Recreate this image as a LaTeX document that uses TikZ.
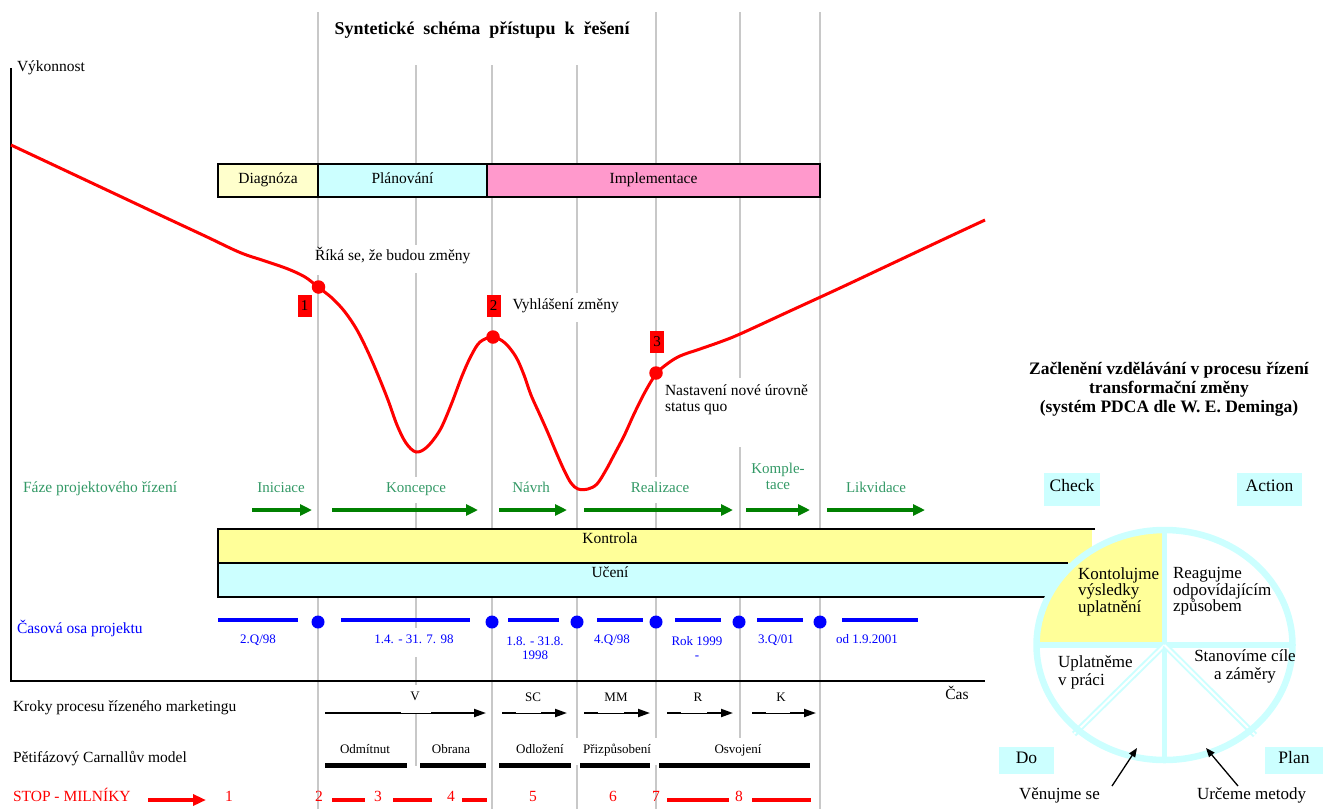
\documentclass[tikz,border=0pt]{standalone}
\usepackage{fontspec}
\setmainfont{Liberation Serif}
\usetikzlibrary{arrows.meta}

\definecolor{gridgray}{RGB}{200,200,200}
\definecolor{paleyellow}{RGB}{255,255,204}
\definecolor{lightyellow}{RGB}{255,255,153}
\definecolor{palecyan}{RGB}{204,255,255}
\definecolor{pinkfill}{RGB}{255,153,204}
\definecolor{phasegreen}{RGB}{51,153,102}
\definecolor{arrowgreen}{RGB}{0,128,0}
\definecolor{timeblue}{RGB}{0,0,255}
\definecolor{stopred}{RGB}{255,0,0}

\begin{document}
\begin{tikzpicture}[x=1pt,y=-1pt,
  every node/.style={inner sep=0pt,outer sep=0pt},
  gridline/.style={draw=gridgray,line width=1.6pt},
  axisline/.style={draw=black,line width=1.8pt},
  lbl/.style={font=\fontsize{15.5}{18}\selectfont,text height=.7em,text depth=.2em},
  lblsm/.style={font=\fontsize{13}{14}\selectfont,text height=.7em,text depth=.2em},
  multism/.style={font=\fontsize{13}{14}\selectfont,align=center},
  phaselbl/.style={font=\fontsize{15}{16}\selectfont,text=phasegreen,text height=.7em,text depth=.2em},
  phasebox/.style={draw=black,line width=1.8pt,lbl,minimum height=33},
  numbox/.style={fill=stopred,font=\fontsize{15}{16}\selectfont,minimum width=14,minimum height=22},
  marker/.style={circle,fill=stopred,minimum size=13.5},
  tdot/.style={circle,fill=timeblue,minimum size=13},
  tline/.style={draw=timeblue,line width=4pt},
  tlbl/.style={lblsm,text=timeblue},
  redcurve/.style={draw=stopred,line width=3pt},
  garrow/.style={draw=arrowgreen,line width=4pt,-{Triangle[length=12pt,width=11pt]}},
  kthin/.style={draw=black,line width=0.9pt},
  kthick/.style={draw=black,line width=2pt},
  khead/.style={draw=black,line width=2pt,-{Triangle[length=12pt,width=8pt]}},
  cbar/.style={draw=black,line width=5pt},
  rdash/.style={draw=stopred,line width=4pt},
  stopnum/.style={font=\fontsize{15.5}{18}\selectfont,text=stopred,text height=.7em,text depth=.2em},
  pdcatxt/.style={font=\fontsize{17}{16.5}\selectfont,align=left},
  tagbox/.style={fill=palecyan,font=\fontsize{17.5}{18}\selectfont,text height=.7em,text depth=.2em},
  ring/.style={draw=palecyan,line width=6.5pt},
  spoke/.style={draw=palecyan,line width=2pt,double=white,double distance=2pt},
  parrow/.style={draw=black,line width=1.3pt,-{Triangle[length=9pt,width=7pt]}}
]
\useasboundingbox (0,0) rectangle (1329,809);

% ---------- vertical grid lines (with gaps behind labels) ----------
\draw[gridline] (318,12) -- (318,248) (318,275) -- (318,809);
\draw[gridline] (416,65) -- (416,245) (416,273) -- (416,477) (416,503) -- (416,628)
                (416,657) -- (416,685) (416,713) -- (416,766);
\draw[gridline] (492,65) -- (492,809);
\draw[gridline] (577,65) -- (577,293) (577,322) -- (577,738) (577,765) -- (577,809);
\draw[gridline] (656,12) -- (656,477) (656,503) -- (656,738) (656,765) -- (656,809);
\draw[gridline] (740,12) -- (740,378) (740,447) -- (740,738);
\draw[gridline] (820,12) -- (820,809);

% ---------- title and axes ----------
\node[font=\bfseries\fontsize{18}{20}\selectfont] (title) at (482,30)
  {Syntetické\ \ schéma\ \ přístupu\ \ k\ \ řešení};
\node[lbl,anchor=west] (ylabel) at (17,69) {Výkonnost};
\coordinate (ytop) at (11,68);
\coordinate (origin) at (11,681);
\coordinate (xend) at (985,681);
\draw[axisline] (ytop) -- (origin) -- (xend);
\node[lbl] (xlabel) at (957,697) {Čas};

% ---------- phase boxes ----------
\node[phasebox,fill=paleyellow,minimum width=100] (diag) at (268,180.5) {Diagnóza};
\node[phasebox,fill=palecyan,minimum width=169] (plan) at (402.5,180.5) {Plánování};
\node[phasebox,fill=pinkfill,minimum width=333] (impl) at (653.5,180.5) {Implementace};

% ---------- performance curve ----------
\draw[redcurve] plot[smooth,tension=0.55] coordinates {
  (11,145) (60,168) (110,191.5) (160,215) (205,236) (240,252.5) (265,261) (288,269)
  (305,277) (318,287) (332,298) (345,312) (357,330) (368,352) (378,375) (388,400)
  (397,425) (406,443) (416,452) (427,447) (440,430) (451,405) (462,376) (471,356)
  (480,342) (493,337) (505,343) (516,357) (524,375) (531,395) (540,415) (548,433)
  (556,452) (564,470) (571,483) (578,489) (588,489) (597,484) (606,470) (614,455)
  (624,436) (634,414) (645,392) (656,374) (667,364) (680,356) (700,349) (720,342)
  (740,334) (790,311) (840,288) (890,264.5) (940,241) (985,220)};
\node[marker] (m1) at (318.5,287) {};
\node[marker] (m2) at (493,337) {};
\node[marker] (m3) at (656,373) {};
\node[numbox] (n1) at (304.5,305.5) {1};
\node[numbox] (n2) at (493.5,305.5) {2};
\node[numbox] (n3) at (657,341.5) {3};
\node[lbl,anchor=west] (say) at (315,257.5) {Říká se, že budou změny};
\node[lbl,anchor=west] (announce) at (512.5,306.5) {Vyhlášení změny};
\node[font=\fontsize{15.5}{16}\selectfont,align=left,anchor=west] (statusquo) at (665,399.5)
  {Nastavení nové úrovně\\status quo};

% ---------- project phases ----------
\node[font=\fontsize{15.5}{18}\selectfont,text=phasegreen,text height=.7em,text depth=.2em,anchor=west]
  (phases) at (23,490) {Fáze projektového řízení};
\node[phaselbl] (ph1) at (281,490) {Iniciace};
\node[phaselbl] (ph2) at (416,490) {Koncepce};
\node[phaselbl] (ph3) at (531,490) {Návrh};
\node[phaselbl] (ph4) at (660,490) {Realizace};
\node[font=\fontsize{15}{16}\selectfont,text=phasegreen,align=center] (ph5) at (778,476) {Komple-\\tace};
\node[phaselbl] (ph6) at (876,490) {Likvidace};
\foreach \a/\b [count=\i] in {252/312,332/478,499/567,584/733,746/810,827/925}{
  \coordinate (ga\i) at (\a,510);
  \coordinate (gb\i) at (\b,510);
  \draw[garrow] (ga\i) -- (gb\i);
}

% ---------- control and learning bands ----------
\fill[lightyellow] (218,529) rectangle (1092,563);
\fill[palecyan] (218,563) rectangle (1075,597);
\draw[axisline] (1095,529) -- (218,529) -- (218,597) -- (1051,597);
\draw[axisline] (218,563) -- (1068,563);
\node[lbl] (kontrola) at (610,541) {Kontrola};
\node[lbl] (uceni) at (610,575) {Učení};

% ---------- PDCA wheel ----------
\coordinate (pc) at (1164.5,645);
\fill[white] (pc) ellipse[x radius=128,y radius=115];
\fill[lightyellow] (pc) -- (1036.5,645) arc[start angle=180,end angle=270,x radius=128,y radius=115] -- cycle;
\draw[palecyan,line width=5.5pt] (1164.5,530) -- (1164.5,760) (1036.5,645) -- (1292.5,645);
\coordinate (spl) at (1074,734);
\coordinate (spr) at (1255,735);
\draw[spoke] (pc) -- (spl);
\draw[spoke] (pc) -- (spr);
\draw[ring] (pc) ellipse[x radius=128,y radius=115];

\node[pdcatxt,anchor=west] (qcheck) at (1078,591.5) {Kontolujme\\výsledky\\uplatnění};
\node[pdcatxt,anchor=west] (qact) at (1173,591.5) {Reagujme\\odpovídajícím\\způsobem};
\node[font=\fontsize{17}{18}\selectfont,align=left,anchor=west] (qdo) at (1058,672) {Uplatněme\\v práci};
\node[font=\fontsize{17}{18}\selectfont,align=center] (qplan) at (1245,666) {Stanovíme cíle\\a záměry};

\node[font=\bfseries\fontsize{17.5}{19}\selectfont,align=center] (pdcatitle) at (1169,389)
  {Začlenění vzdělávání v procesu řízení\\transformační změny\\(systém PDCA dle W. E. Deminga)};
\node[tagbox,minimum width=56,minimum height=33] (check) at (1072,489) {Check};
\node[tagbox,minimum width=65,minimum height=33] (action) at (1269.5,489) {Action};
\node[tagbox,minimum width=55,minimum height=27] (do) at (1026.5,760.5) {Do};
\node[tagbox,minimum width=58,minimum height=27] (plantag) at (1294,760.5) {Plan};

\node[font=\fontsize{17}{18}\selectfont,text height=.7em,text depth=.2em] (devote) at (1059.5,797) {Věnujme se};
\node[font=\fontsize{17}{18}\selectfont,text height=.7em,text depth=.2em] (methods) at (1251.5,797) {Určeme metody};
\coordinate (devtail) at (1112,786);
\coordinate (devtip) at (1137,748);
\coordinate (mettail) at (1238,786);
\coordinate (mettip) at (1206,748);
\draw[parrow] (devtail) -- (devtip);
\draw[parrow] (mettail) -- (mettip);

% ---------- project time axis ----------
\node[font=\fontsize{15.5}{18}\selectfont,text=timeblue,text height=.7em,text depth=.2em,anchor=west]
  (timeaxis) at (17,631) {Časová osa projektu};
\foreach \a/\b in {218/298,341/470,508/559,597/643,675/721,757/803,842/918}{
  \draw[tline] (\a,620) -- (\b,620);
}
\foreach \x [count=\i] in {318,492,577,656,739,820}{
  \node[tdot] (d\i) at (\x,622) {};
}
\node[tlbl] (t1) at (258,641) {2.Q/98};
\node[tlbl] (t2) at (414,641) {1.4. - 31. 7. 98};
\node[multism,text=timeblue] (t3) at (535,648) {1.8. - 31.8.\\1998};
\node[tlbl] (t4) at (612,641) {4.Q/98};
\node[multism,text=timeblue] (t5) at (697,648) {Rok 1999\\-};
\node[tlbl] (t6) at (776,641) {3.Q/01};
\node[tlbl] (t7) at (867,641) {od 1.9.2001};

% ---------- marketing process steps ----------
\node[lbl,anchor=west] (kroky) at (13,709) {Kroky procesu řízeného marketingu};
\foreach \s/\e in {325/486,502/567,584/650,667/733,752/816}{
  \draw[kthin] (\s,713) -- (\e-20,713);
  \draw[kthick] (\s,713) -- (\s+14,713);
  \draw[khead] (\e-26,713) -- (\e,713);
}
\draw[kthick] (325,713) -- (401,713);
\draw[kthick] (431,713) -- (470,713);
\node[lblsm] (kv) at (415,698) {V};
\node[lblsm] (ksc) at (533,699) {SC};
\node[lblsm] (kmm) at (616,699) {MM};
\node[lblsm] (kr) at (698,699) {R};
\node[lblsm] (kk) at (781,699) {K};

% ---------- Carnall's five-phase model ----------
\node[lbl,anchor=west] (carnall) at (13,760) {Pětifázový Carnallův model};
\foreach \s/\e in {325/407,420/486,499/571,580/650,659/810}{
  \draw[cbar] (\s,765) -- (\e,765);
}
\node[lblsm] (c1) at (365,751) {Odmítnut};
\node[lblsm] (c2) at (451,751) {Obrana};
\node[lblsm] (c3) at (540,751) {Odložení};
\node[lblsm] (c4) at (617,751) {Přizpůsobení};
\node[lblsm] (c5) at (738,751) {Osvojení};

% ---------- milestones ----------
\node[stopnum,anchor=west] (stop) at (13,799) {STOP - MILNÍKY};
\coordinate (sa) at (148,800);
\coordinate (sb) at (206,800);
\draw[draw=stopred,line width=4pt,-{Triangle[length=13pt,width=11pt]}] (sa) -- (sb);
\foreach \x/\n in {229/1,319/2,378/3,451/4,533/5,613/6,656/7,739/8}{
  \node[stopnum] (s\n) at (\x,799) {\n};
}
\foreach \s/\e in {332/365,393/432,462/487,667/729,752/811}{
  \draw[rdash] (\s,800) -- (\e,800);
}
\end{tikzpicture}
\end{document}
